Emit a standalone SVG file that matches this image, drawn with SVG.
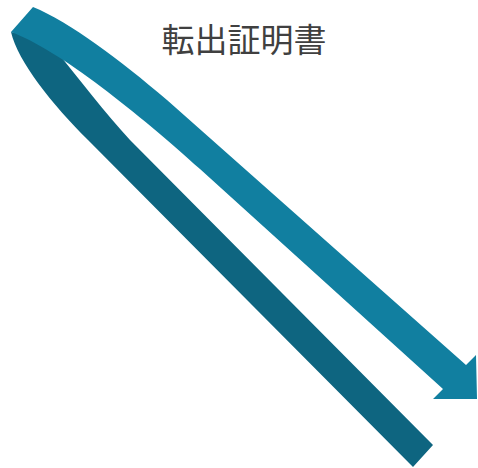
<svg xmlns="http://www.w3.org/2000/svg" width="478" height="468" viewBox="0 0 478 468">
  <style>
    .back { fill: #0E6580; }
    .front { fill: #117FA0; }
    .title { font-family: "Noto Sans CJK JP", "Noto Sans CJK SC", sans-serif; font-size: 33px; fill: #404040; }
  </style>
  <rect width="478" height="468" fill="#FFFFFF"/>
  <g id="connectors">
    <g id="back-ribbon">
      <path class="back" d="M11,32 C18,62 52,104 88,140 L413,467 L433,445 L130,140 C105,113 80,80 58,53 L40,38 Z"/>
    </g>
    <g id="front-arrow">
      <path class="front" d="M33,7 C70,22 120,60 167,100 L466,365 L476,355 L477,399 L433,399 L443,389 L200,169 C140,115 60,50 11,32 Z"/>
    </g>
  </g>
  <g id="title">
    <text class="title" x="244" y="52" text-anchor="middle">転出証明書</text>
  </g>
</svg>
